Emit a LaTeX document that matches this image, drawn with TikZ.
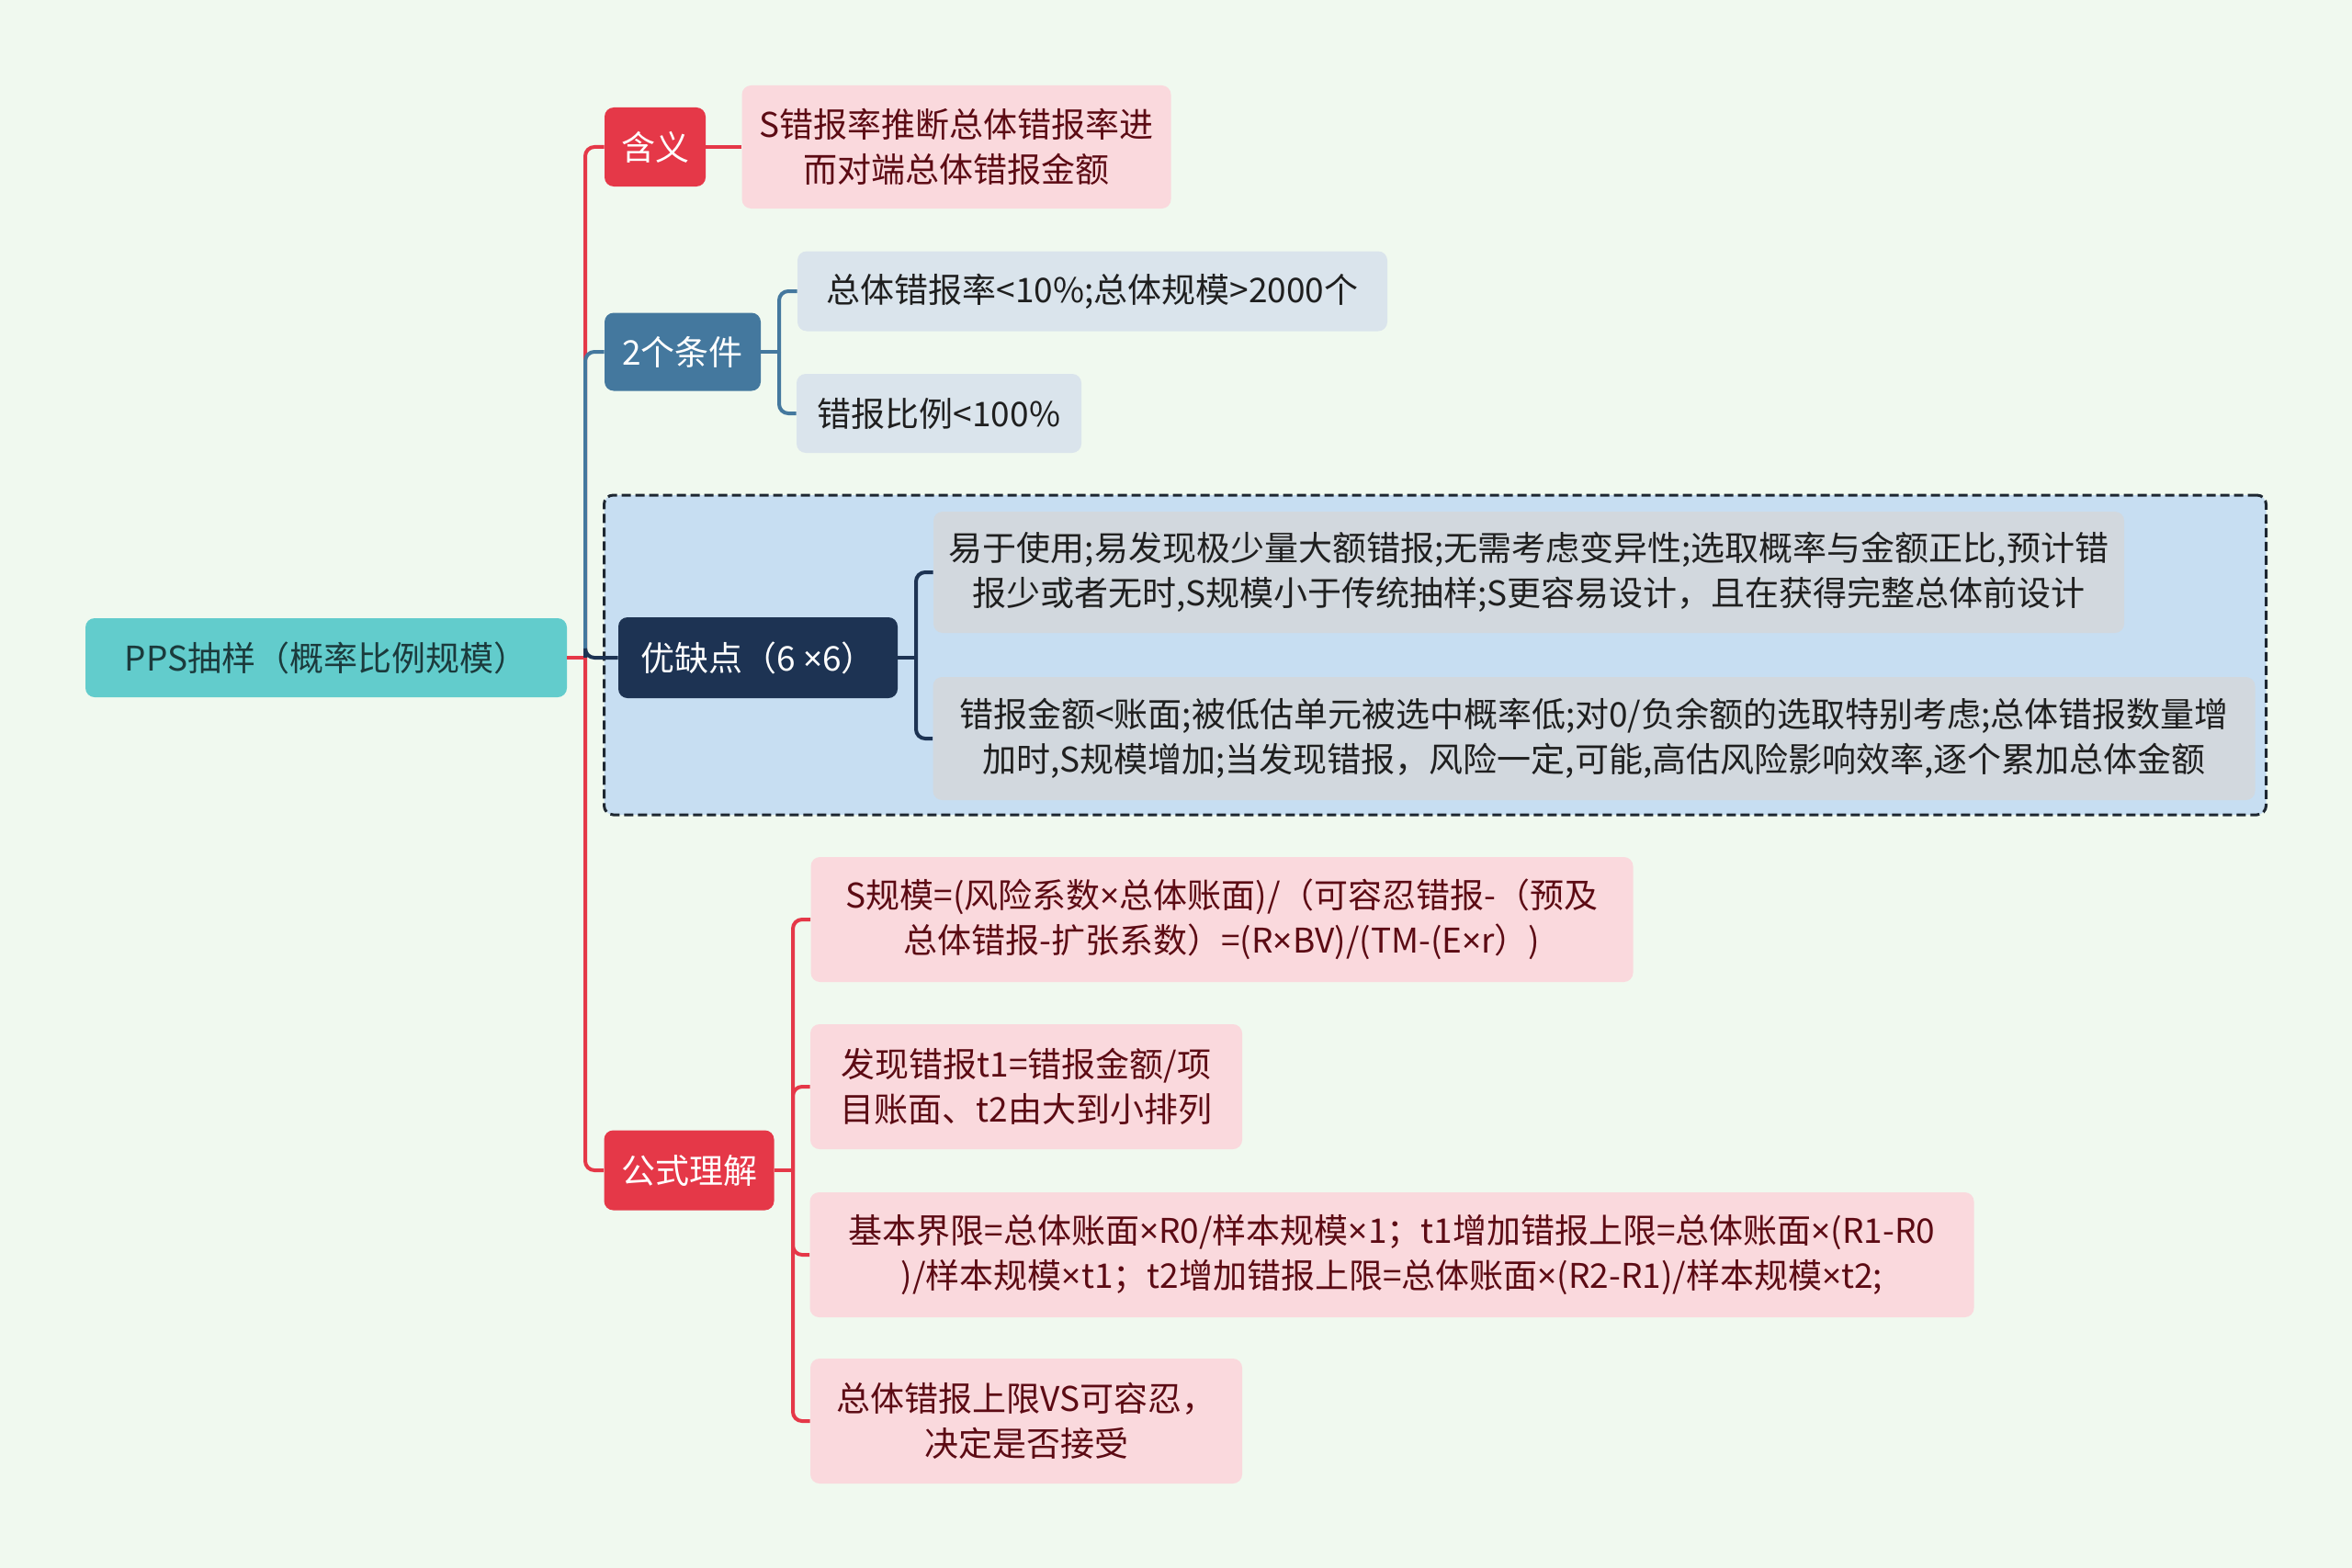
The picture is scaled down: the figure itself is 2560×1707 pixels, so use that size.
\documentclass[tikz,border=0pt]{standalone}
\usepackage{fontspec}
\newfontfamily\cjk{Noto Sans CJK SC}
\newfontfamily\latin{Noto Sans}
\newcommand\mul{{\latin ×}}
\usepackage{xcolor}
\definecolor{mapbg}{HTML}{F0F9EF}
\definecolor{rootteal}{HTML}{62CCCC}
\definecolor{roottext}{HTML}{1B3A3C}
\definecolor{topicred}{HTML}{E53848}
\definecolor{leafpink}{HTML}{FAD9DD}
\definecolor{leafmaroon}{HTML}{5C0B14}
\definecolor{topicblue}{HTML}{44789E}
\definecolor{leafblue}{HTML}{DAE4EC}
\definecolor{topicnavy}{HTML}{1D3353}
\definecolor{groupblue}{HTML}{C7DEF2}
\definecolor{groupline}{HTML}{1E2731}
\definecolor{leafgrey}{HTML}{D2D8DE}

\begin{document}
\begin{tikzpicture}[x=0.5pt,y=-0.5pt,
 box/.style={rounded corners=5pt,inner sep=0pt,align=center,
  font={\cjk\fontsize{18.5}{24.5}\selectfont}},
 root/.style={box,fill=rootteal,text=roottext},
 topic/.style={box,fill=#1,text=white},
 leaf/.style={box,fill=#1,text=black!88},
 redleaf/.style={box,fill=leafpink,text=leafmaroon},
 link/.style={draw=#1,line width=2pt,rounded corners=5pt},
 group/.style={draw=groupline,fill=groupblue,line width=1.5pt,
  dash pattern=on 5pt off 2.5pt,rounded corners=5pt}]
\useasboundingbox (0,0) rectangle (2560,1707);
\fill[mapbg] (0,0) rectangle (2560,1707);
% dashed frame round the pros and cons
\node[group,minimum width=904.5pt,minimum height=174pt] (frame) at (1562,713) {};
% root and first level
\node[root,minimum width=262pt,minimum height=43pt] (root) at (355,716) {PPS抽样（概率比例规模）};
\node[topic=topicred,minimum width=55pt,minimum height=43pt] (mean) at (713,160) {含义};
\node[topic=topicblue,minimum width=85pt,minimum height=42.5pt] (cond) at (743,383) {2个条件};
\node[topic=topicnavy,minimum width=152pt,minimum height=44pt] (pros) at (825,716) {优缺点（6 \mul6）};
\node[topic=topicred,minimum width=92.5pt,minimum height=43.5pt] (form) at (750,1274) {公式理解};
% leaves
\node[redleaf,minimum width=233.5pt,minimum height=67pt] (meanA) at (1041,160)
 {S错报率推断总体错报率进\\而对端总体错报金额};
\node[leaf=leafblue,minimum width=321pt,minimum height=43.5pt] (condA) at (1189,317)
 {总体错报率<10\%;总体规模>2000个};
\node[leaf=leafblue,minimum width=155pt,minimum height=43pt] (condB) at (1022,450)
 {错报比例<100\%};
\node[leaf=leafgrey,minimum width=648pt,minimum height=66pt] (prosA) at (1664,623)
 {易于使用;易发现极少量大额错报;无需考虑变异性;选取概率与金额正比,预计错\\报少或者无时,S规模小于传统抽样;S更容易设计，且在获得完整总体前设计};
\node[leaf=leafgrey,minimum width=719.5pt,minimum height=67pt] (prosB) at (1735,804)
 {错报金额<账面;被低估单元被选中概率低;对0/负余额的选取特别考虑;总体错报数量增\\加时,S规模增加;当发现错报，风险一定,可能,高估风险影响效率,逐个累加总体金额};
\node[redleaf,minimum width=447.5pt,minimum height=68pt] (formA) at (1330,1001)
 {S规模=(风险系数\mul 总体账面)/（可容忍错报-（预及\\总体错报-扩张系数）=(R\mul BV)/(TM-(E\mul r）)};
\node[redleaf,minimum width=235pt,minimum height=68pt] (formB) at (1117,1183)
 {发现错报t1=错报金额/项\\目账面、t2由大到小排列};
\node[redleaf,minimum width=633.5pt,minimum height=68pt] (formC) at (1515,1366)
 {基本界限=总体账面\mul R0/样本规模\mul 1；t1增加错报上限=总体账面\mul(R1-R0\\)/样本规模\mul t1；t2增加错报上限=总体账面\mul(R2-R1)/样本规模\mul t2;};
\node[redleaf,minimum width=235pt,minimum height=68pt] (formD) at (1117,1547)
 {总体错报上限VS可容忍，\\决定是否接受};
% branches
\coordinate (trunk) at (637,716);
\draw[link=topicred] (root.east) -- (trunk);
\foreach \t/\c in {mean/topicred,cond/topicblue,pros/topicnavy,form/topicred}
 \draw[link=\c] (trunk) |- (\t.west);
\draw[link=topicred] (mean.east) -- (meanA.west);
\coordinate (condj) at (848,383);
\draw[link=topicblue] (cond.east) -- (condj);
\foreach \k in {A,B}
 \draw[link=topicblue] (condj) |- (cond\k.west);
\coordinate (prosj) at (997,716);
\draw[link=topicnavy] (pros.east) -- (prosj);
\foreach \k in {A,B}
 \draw[link=topicnavy] (prosj) |- (pros\k.west);
\coordinate (formj) at (863,1274);
\draw[link=topicred] (form.east) -- (formj);
\foreach \k in {A,B,C,D}
 \draw[link=topicred] (formj) |- (form\k.west);
\end{tikzpicture}
\end{document}
